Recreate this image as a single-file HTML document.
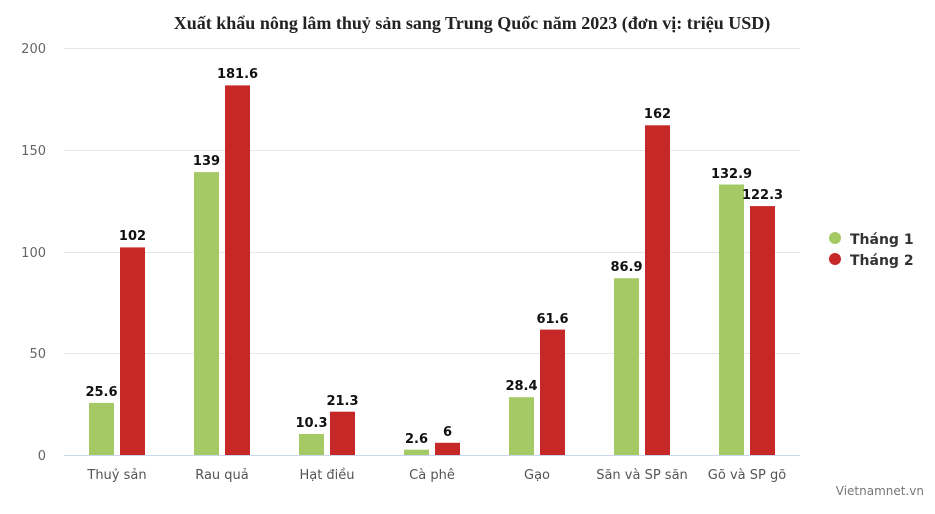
<!DOCTYPE html>
<html><head><meta charset="utf-8"><style>body{margin:0;background:#fff}svg{display:block}</style></head><body>
<svg width="935" height="514" xmlns="http://www.w3.org/2000/svg" font-family="'DejaVu Sans','Liberation Sans',sans-serif">
<text x="472" y="29" text-anchor="middle" font-family="'Liberation Serif',serif" font-weight="bold" font-size="18" fill="#222">Xuất khẩu nông lâm thuỷ sản sang Trung Quốc năm 2023 (đơn vị: triệu USD)</text>
<g stroke="#e6e6e6" stroke-width="1">
<line x1="64" x2="800" y1="48.5" y2="48.5"/><line x1="64" x2="800" y1="150.5" y2="150.5"/><line x1="64" x2="800" y1="252.5" y2="252.5"/><line x1="64" x2="800" y1="353.5" y2="353.5"/></g>
<g font-size="13" fill="#666" text-anchor="end">
<text x="46" y="53">200</text><text x="46" y="155">150</text><text x="46" y="257">100</text><text x="46" y="358">50</text><text x="46" y="460">0</text></g>
<g fill="#a5c965">
<rect x="89" y="402.9" width="25" height="52.1"/>
<rect x="194" y="172.1" width="25" height="282.9"/>
<rect x="299" y="434" width="25" height="21"/>
<rect x="404" y="449.7" width="25" height="5.3"/>
<rect x="509" y="397.2" width="25" height="57.8"/>
<rect x="614" y="278.2" width="25" height="176.8"/>
<rect x="719" y="184.5" width="25" height="270.5"/>
</g>
<g fill="#c62828">
<rect x="120" y="247.4" width="25" height="207.6"/>
<rect x="225" y="85.4" width="25" height="369.6"/>
<rect x="330" y="411.7" width="25" height="43.3"/>
<rect x="435" y="442.8" width="25" height="12.2"/>
<rect x="540" y="329.6" width="25" height="125.4"/>
<rect x="645" y="125.3" width="25" height="329.7"/>
<rect x="750" y="206.1" width="25" height="248.9"/>
</g>
<line x1="64" x2="800" y1="455.5" y2="455.5" stroke="#ccd6eb"/>
<g font-size="13" font-weight="bold" fill="#111" text-anchor="middle">
<text x="101.5" y="396">25.6</text><text x="132.5" y="240">102</text>
<text x="206.5" y="165">139</text><text x="237.5" y="78">181.6</text>
<text x="311.5" y="427">10.3</text><text x="342.5" y="405">21.3</text>
<text x="416.5" y="443">2.6</text><text x="447.5" y="436">6</text>
<text x="521.5" y="390">28.4</text><text x="552.5" y="323">61.6</text>
<text x="626.5" y="271">86.9</text><text x="657.5" y="118">162</text>
<text x="731.5" y="178">132.9</text><text x="762.5" y="199">122.3</text>
</g>
<g font-size="13" fill="#555" text-anchor="middle">
<text x="117" y="479">Thuỷ sản</text><text x="222" y="479">Rau quả</text><text x="327" y="479">Hạt điều</text><text x="432" y="479">Cà phê</text><text x="537" y="479">Gạo</text><text x="642" y="479">Săn và SP săn</text><text x="747" y="479">Gõ và SP gõ</text></g>
<circle cx="835" cy="238" r="6" fill="#a5c965"/><text x="850" y="244" font-size="14" font-weight="bold" fill="#333">Tháng 1</text>
<circle cx="835" cy="259" r="6" fill="#c62828"/><text x="850" y="265" font-size="14" font-weight="bold" fill="#333">Tháng 2</text>
<text x="924" y="495" font-size="12" fill="#777" text-anchor="end">Vietnamnet.vn</text>
</svg>
</body></html>
